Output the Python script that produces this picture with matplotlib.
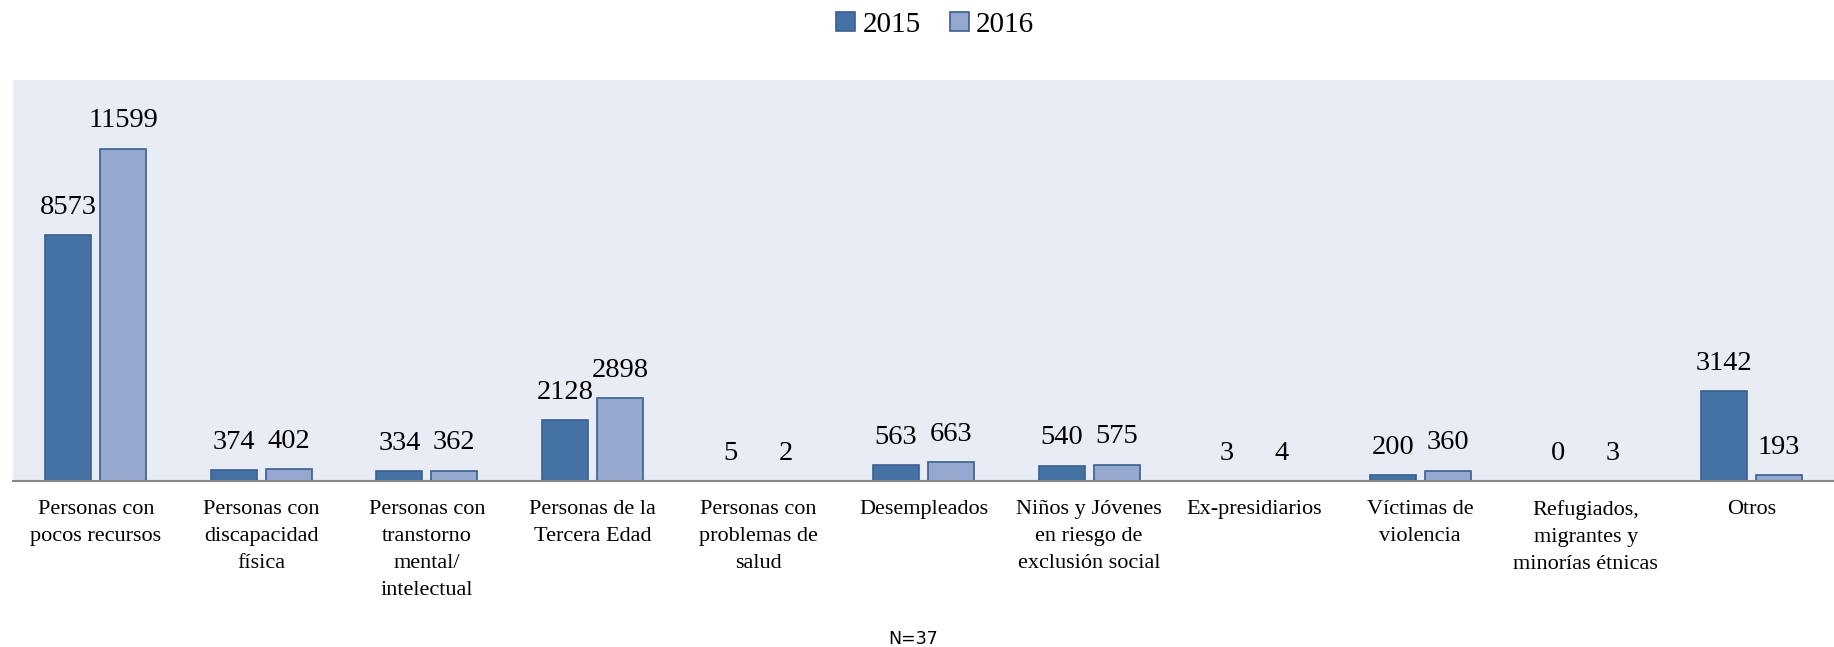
import matplotlib
matplotlib.use("Agg")
import matplotlib.pyplot as plt
import numpy as np

categorias = ["Personas con\npocos recursos",
              "Personas con\ndiscapacidad\nfísica",
              "Personas con\ntranstorno\nmental/\nintelectual",
              "Personas de la\nTercera Edad",
              "Personas con\nproblemas de\nsalud",
              "Desempleados",
              "Niños y Jóvenes\nen riesgo de\nexclusión social",
              "Ex-presidiarios",
              "Víctimas de\nviolencia",
              "Refugiados,\nmigrantes y\nminorías étnicas",
              "Otros"]
valores_2015 = [8573, 374, 334, 2128, 5, 563, 540, 3, 200, 0, 3142]
valores_2016 = [11599, 402, 362, 2898, 2, 663, 575, 4, 360, 3, 193]
anios = ["2015", "2016"]

plt.rcParams['font.family'] = ['Liberation Serif', 'DejaVu Serif']

fig = plt.figure(figsize=(18.34, 6.47), dpi=100)
ax = fig.add_axes([0.0071, 0.2566, 0.9929, 0.6198])
ax.set_facecolor('#E8ECF4')

x = np.arange(len(categorias))
w = 0.278
off = 0.166
b1 = ax.bar(x - off, valores_2015, w, color='#4472A4', edgecolor='#3A5F8F', linewidth=1.2, label=anios[0])
b2 = ax.bar(x + off, valores_2016, w, color='#95A9D0', edgecolor='#3A5F8F', linewidth=1.2, label=anios[1])

for bars in (b1, b2):
    for r in bars:
        ax.annotate(str(int(r.get_height())), (r.get_x() + r.get_width() / 2, r.get_height()),
                    xytext=(0, 11), textcoords='offset points', ha='center', va='bottom', fontsize=20.5)

ax.set_xlim(-0.5, len(categorias) - 0.5)
ax.set_ylim(0, 14000)
ax.set_yticks([])
ax.set_xticks(x)
ax.set_xticklabels(categorias, fontsize=16, linespacing=1.55, va='top')
ax.tick_params(axis='x', length=0, pad=14)
for s in ['top', 'right', 'left']:
    ax.spines[s].set_visible(False)
ax.spines['bottom'].set_color('#858585')
ax.spines['bottom'].set_linewidth(1.5)

fig.legend(loc='center', bbox_to_anchor=(0.51, 0.962), ncol=2, frameon=False, fontsize=21,
           handlelength=0.65, handleheight=0.65, handletextpad=0.25, columnspacing=1.0)

fig.text(0.498, 0.012, "N=37", ha='center', va='center', fontsize=12.5, family='DejaVu Sans')

fig.savefig("out.png", dpi=100)
